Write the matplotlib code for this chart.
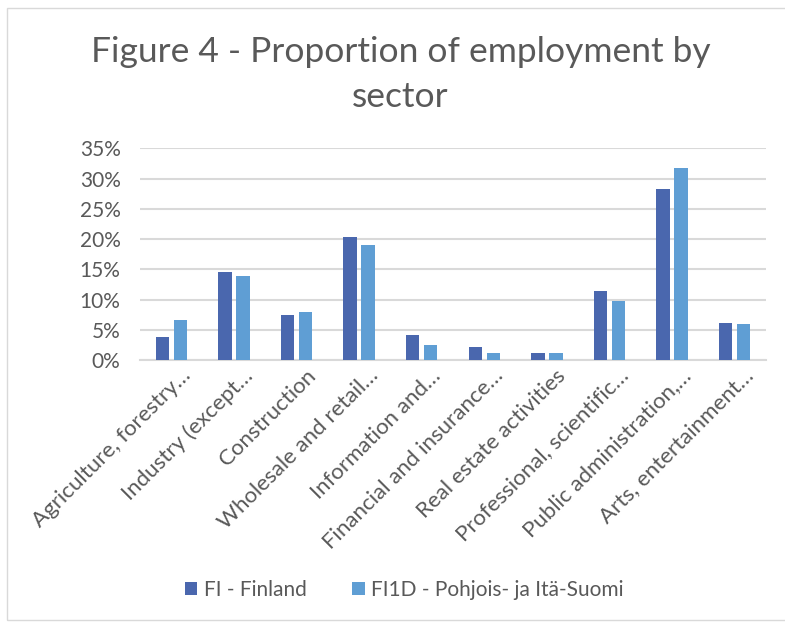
import numpy as np
import matplotlib
matplotlib.use("Agg")
import matplotlib.pyplot as plt
from matplotlib.patches import Rectangle
from matplotlib.ticker import PercentFormatter

plt.rcParams['font.family'] = ['Lato', 'DejaVu Sans']

sectors = ["Agriculture, forestry\u2026", "Industry (except\u2026", "Construction",
           "Wholesale and retail\u2026", "Information and\u2026",
           "Financial and insurance\u2026", "Real estate activities",
           "Professional, scientific\u2026", "Public administration,\u2026",
           "Arts, entertainment\u2026"]
finland = [3.75, 14.5, 7.5, 20.4, 4.2, 2.15, 1.1, 11.4, 28.3, 6.1]
fi1d = [6.65, 13.9, 8.0, 19.0, 2.4, 1.1, 1.1, 9.7, 31.8, 6.0]
series_names = ["FI - Finland", "FI1D - Pohjois- ja It\u00e4-Suomi"]

text_col = "#595959"
grid_col = "#D9D9D9"

fig = plt.figure(figsize=(7.85, 6.25), dpi=100)
# chart border
fig.patches.append(Rectangle((7 / 785, 5 / 625), 1.0, 1 - 13 / 625,
                             transform=fig.transFigure, fill=False,
                             edgecolor=grid_col, linewidth=1.0))

ax = fig.add_axes([140 / 785, 1 - 360 / 625, 626 / 785, (360 - 148.3) / 625])

x = np.arange(len(sectors))
w = 0.215
off = 0.144
ax.bar(x - off, finland, w, color="#4A67AE", label=series_names[0], zorder=3)
ax.bar(x + off, fi1d, w, color="#5F9ED4", label=series_names[1], zorder=3)

ax.set_xlim(-0.5, len(sectors) - 0.5)
ax.set_ylim(0, 35)
ax.set_yticks(np.arange(0, 36, 5))
ax.yaxis.set_major_formatter(PercentFormatter(decimals=0))
ax.grid(axis='y', color=grid_col, linewidth=1.5, zorder=0)
for s in ['top', 'right', 'left']:
    ax.spines[s].set_visible(False)
ax.spines['bottom'].set_color(grid_col)
ax.spines['bottom'].set_linewidth(1.5)
ax.tick_params(axis='both', length=0, colors=text_col, labelsize=15)
ax.tick_params(axis='y', pad=14)
ax.tick_params(axis='x', pad=4)
ax.set_xticks(x + 0.14)
ax.set_xticklabels(sectors, rotation=45, ha='right', rotation_mode='anchor',
                   fontsize=16, color=text_col)

fig.text(0.51, 1 - 52 / 625, "Figure 4 - Proportion of employment by",
         ha='center', va='center', fontsize=25.5, color=text_col)
fig.text(0.51, 1 - 97 / 625, "sector", ha='center', va='center',
         fontsize=25.5, color=text_col)

fig.legend(loc='center', bbox_to_anchor=(0.515, 1 - 590 / 625), ncol=2,
           frameon=False, fontsize=15, labelcolor=text_col,
           handlelength=0.6, handleheight=0.6, handletextpad=0.3,
           columnspacing=2.2)

fig.savefig("out.png", dpi=100)
